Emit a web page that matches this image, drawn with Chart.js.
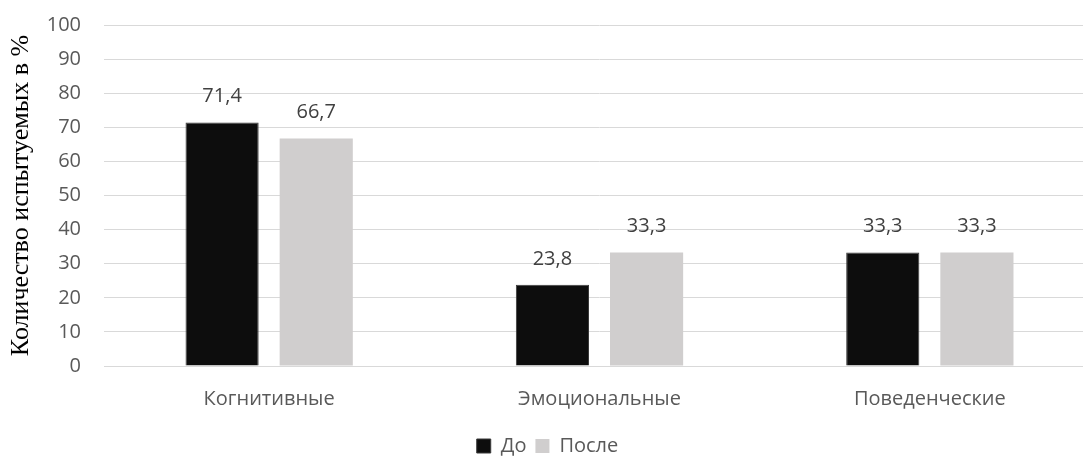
<!DOCTYPE html>
<html lang="ru">
<head>
    <meta charset="UTF-8">
    <title>Количество испытуемых</title>
    <script src="https://cdn.jsdelivr.net/npm/chart.js"></script>
    <style>
        html, body {
            margin: 0;
            padding: 0;
            background: #fff;
            overflow: hidden;
        }
        .wrap {
            width: 1106px;
            height: 459px;
        }
    </style>
</head>
<body>
    <div class="wrap">
        <canvas id="chart"></canvas>
    </div>

    <script>
        const categories = ["Когнитивные", "Эмоциональные", "Поведенческие"];
        const before = [71.4, 23.8, 33.3];
        const after = [66.7, 33.3, 33.3];
        const seriesNames = ["До", "После"];

        const textFont = "'Open Sans', 'Noto Sans', sans-serif";

        // values above each bar, with a decimal comma
        const valueLabels = {
            id: "valueLabels",
            afterDatasetsDraw(chart) {
                const ctx = chart.ctx;
                ctx.save();
                ctx.font = "20px " + textFont;
                ctx.fillStyle = "#404040";
                ctx.textAlign = "center";
                ctx.textBaseline = "middle";
                chart.data.datasets.forEach((ds, i) => {
                    chart.getDatasetMeta(i).data.forEach((bar, j) => {
                        const txt = ds.data[j].toFixed(1).replace(".", ",");
                        ctx.fillText(txt, bar.x, bar.y - 26);
                    });
                });
                ctx.restore();
            }
        };

        new Chart(document.getElementById("chart"), {
            type: "bar",
            data: {
                labels: categories,
                datasets: [
                    {
                        label: seriesNames[0],
                        data: before,
                        backgroundColor: "#0d0d0d",
                        borderColor: "#3a3a3a",
                        borderWidth: 1
                    },
                    {
                        label: seriesNames[1],
                        data: after,
                        backgroundColor: "#d0cece",
                        borderColor: "#d0cece",
                        borderWidth: 0
                    }
                ]
            },
            options: {
                responsive: true,
                maintainAspectRatio: false,
                animation: false,
                categoryPercentage: 0.57,
                barPercentage: 0.777,
                layout: {
                    padding: { left: 0, right: 11, top: 25, bottom: -7 }
                },
                plugins: {
                    legend: {
                        position: "bottom",
                        labels: {
                            boxWidth: 14,
                            boxHeight: 14,
                            padding: 9,
                            color: "#595959",
                            font: { family: textFont, size: 20 }
                        }
                    },
                    tooltip: { enabled: false }
                },
                scales: {
                    x: {
                        grid: { display: false },
                        border: { color: "#d9d9d9" },
                        afterFit(scale) {
                            scale.height += 3;
                        },
                        ticks: {
                            color: "#595959",
                            padding: 13,
                            font: { family: textFont, size: 20 }
                        }
                    },
                    y: {
                        min: 0,
                        max: 100,
                        afterFit(scale) {
                            scale.width = 104;
                            scale.paddingTop = 0;
                            scale.paddingBottom = 0;
                        },
                        ticks: {
                            stepSize: 10,
                            color: "#595959",
                            padding: 23,
                            font: { family: textFont, size: 20 }
                        },
                        grid: { color: "#d9d9d9", drawTicks: false },
                        border: { display: false },
                        title: {
                            display: true,
                            text: "Количество испытуемых в %",
                            color: "#000",
                            padding: { top: 6, bottom: 0 },
                            font: { family: "'Liberation Serif', serif", size: 26 }
                        }
                    }
                }
            },
            plugins: [valueLabels]
        });
    </script>
</body>
</html>
